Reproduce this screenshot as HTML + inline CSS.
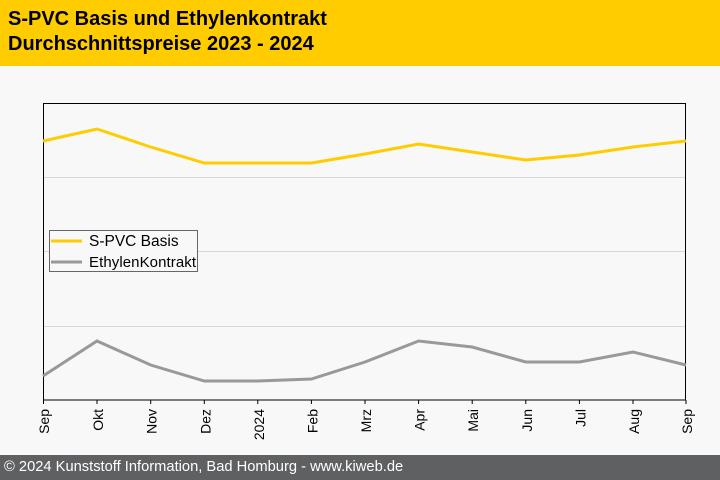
<!DOCTYPE html>
<html><head><meta charset="utf-8"><style>
body{margin:0;width:720px;height:480px;background:#f8f8f8;overflow:hidden;font-family:"Liberation Sans",Arial,sans-serif}
.hd{position:absolute;left:0;top:0;width:720px;height:66px;background:#ffcc00}
.hd div{position:absolute;left:8px;font-weight:bold;font-size:20px;color:#000}
.ft{position:absolute;left:0;top:455px;width:720px;height:25px;background:#5f6062;color:#fff;font-size:14.7px;line-height:25px;padding-left:4px;box-sizing:border-box}
</style></head><body>
<div class="hd"><div style="top:8px">S-PVC Basis und Ethylenkontrakt</div><div style="top:33px">Durchschnittspreise 2023 - 2024</div></div>
<svg width="720" height="480" style="position:absolute;left:0;top:0">
<g stroke="#d8d8d8" stroke-width="1">
<line x1="43" y1="177.5" x2="686" y2="177.5"/><line x1="43" y1="251.5" x2="686" y2="251.5"/><line x1="43" y1="326.5" x2="686" y2="326.5"/>
</g>
<rect x="43.5" y="103.5" width="642" height="296.5" fill="none" stroke="#000" stroke-width="1"/>
<g stroke="#000">
<line x1="43.5" y1="400" x2="43.5" y2="404"/><line x1="97" y1="400" x2="97" y2="404"/><line x1="150.7" y1="400" x2="150.7" y2="404"/><line x1="204.3" y1="400" x2="204.3" y2="404"/><line x1="257.8" y1="400" x2="257.8" y2="404"/><line x1="311.4" y1="400" x2="311.4" y2="404"/><line x1="365" y1="400" x2="365" y2="404"/><line x1="418.6" y1="400" x2="418.6" y2="404"/><line x1="472.2" y1="400" x2="472.2" y2="404"/><line x1="525.8" y1="400" x2="525.8" y2="404"/><line x1="579.4" y1="400" x2="579.4" y2="404"/><line x1="633" y1="400" x2="633" y2="404"/><line x1="686" y1="400" x2="686" y2="404"/>
</g>
<polyline fill="none" stroke="#ffcc00" stroke-width="3" points="43,141 97,129 150.7,147 204.3,163 257.8,163 311.4,163 365,154 418.6,144 472.2,152 525.8,160 579.4,155 633,147 686,141"/>
<polyline fill="none" stroke="#999" stroke-width="3" points="43,376 97,341 150.7,365 204.3,381 257.8,381 311.4,379 365,362 418.6,341 472.2,347 525.8,362 579.4,362 633,352 686,365"/>
<g font-size="14" fill="#000" text-anchor="end">
<text transform="translate(49,409) rotate(-90)">Sep</text>
<text transform="translate(103,409) rotate(-90)">Okt</text>
<text transform="translate(156.7,409) rotate(-90)">Nov</text>
<text transform="translate(210.3,409) rotate(-90)">Dez</text>
<text transform="translate(263.8,409) rotate(-90)">2024</text>
<text transform="translate(317.4,409) rotate(-90)">Feb</text>
<text transform="translate(371,409) rotate(-90)">Mrz</text>
<text transform="translate(424.6,409) rotate(-90)">Apr</text>
<text transform="translate(478.2,409) rotate(-90)">Mai</text>
<text transform="translate(531.8,409) rotate(-90)">Jun</text>
<text transform="translate(585.4,409) rotate(-90)">Jul</text>
<text transform="translate(639,409) rotate(-90)">Aug</text>
<text transform="translate(692,409) rotate(-90)">Sep</text>
</g>
<rect x="49.5" y="230.5" width="148" height="41" fill="#f8f8f8" stroke="#666"/>
<line x1="51" y1="241" x2="82" y2="241" stroke="#ffcc00" stroke-width="3"/>
<line x1="51" y1="262" x2="82" y2="262" stroke="#999" stroke-width="3"/>
<text x="89" y="246" font-size="15.5" fill="#000">S-PVC Basis</text>
<text x="89" y="267" font-size="15" fill="#000" textLength="107">EthylenKontrakt</text>
</svg>
<div class="ft">© 2024 Kunststoff Information, Bad Homburg - www.kiweb.de</div>
</body></html>
